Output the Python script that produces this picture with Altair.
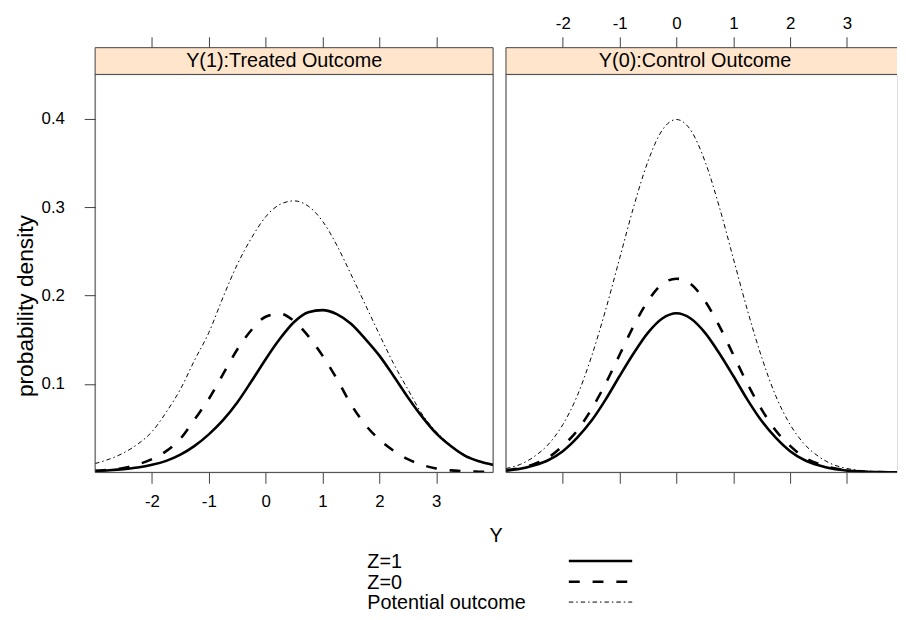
import altair as alt
import pandas as pd

FONT = "Liberation Sans"
AX = "#404040"

# ---------------- data ----------------
x_left = [-3.0, -2.75, -2.5, -2.25, -2.0, -1.75, -1.5, -1.25, -1.0, -0.75, -0.5, -0.25,
          0.0, 0.25, 0.5, 0.75, 1.0, 1.25, 1.5, 1.75, 2.0, 2.25, 2.5, 2.75, 3.0, 3.25,
          3.5, 3.75, 4.0]
z1_left = [0.0017, 0.0025, 0.0037, 0.0055, 0.0085, 0.013, 0.020, 0.030, 0.043, 0.059, 0.079,
           0.103, 0.128, 0.151, 0.170, 0.181, 0.1835, 0.179, 0.168, 0.151, 0.132, 0.109,
           0.085, 0.063, 0.044, 0.030, 0.019, 0.0125, 0.0085]
z0_left = [0.0015, 0.003, 0.005, 0.009, 0.015, 0.024, 0.038, 0.060, 0.083, 0.111, 0.139,
           0.161, 0.176, 0.1795, 0.171, 0.154, 0.132, 0.106, 0.077, 0.054, 0.037, 0.0245,
           0.015, 0.0085, 0.0045, 0.0023, 0.0013, 0.0008, 0.0005]
po_left = [0.010, 0.015, 0.022, 0.032, 0.046, 0.068, 0.094, 0.127, 0.158, 0.198, 0.235,
           0.265, 0.289, 0.303, 0.307, 0.301, 0.284, 0.257, 0.224, 0.190, 0.156, 0.123,
           0.094, 0.066, 0.046, 0.031, 0.020, 0.013, 0.0082]

x_right = [-3.0, -2.75, -2.5, -2.25, -2.0, -1.75, -1.5, -1.25, -1.0, -0.75, -0.5, -0.25,
           0.0, 0.25, 0.5, 0.75, 1.0, 1.25, 1.5, 1.75, 2.0, 2.25, 2.5, 2.75, 3.0, 3.25,
           3.5, 3.75, 3.88]
z1_right = [0.002, 0.004, 0.008, 0.014, 0.024, 0.039, 0.058, 0.082, 0.109, 0.135, 0.158,
            0.174, 0.180, 0.174, 0.158, 0.135, 0.109, 0.082, 0.058, 0.039, 0.024, 0.014,
            0.008, 0.004, 0.002, 0.0009, 0.0004, 0.0002, 0.0001]
z0_right = [0.0024, 0.005, 0.0096, 0.017, 0.030, 0.047, 0.071, 0.100, 0.133, 0.166, 0.194,
            0.213, 0.219, 0.213, 0.194, 0.166, 0.133, 0.100, 0.071, 0.047, 0.030, 0.017,
            0.0096, 0.005, 0.0024, 0.0011, 0.0005, 0.0002, 0.0001]
po_right = [0.0044, 0.009, 0.018, 0.032, 0.054, 0.086, 0.130, 0.183, 0.242, 0.301, 0.352,
            0.387, 0.399, 0.387, 0.352, 0.301, 0.242, 0.183, 0.130, 0.086, 0.054, 0.032,
            0.018, 0.009, 0.0044, 0.002, 0.0009, 0.0004, 0.0002]

x_ticks = [-2, -1, 0, 1, 2, 3]
y_ticks = [0.1, 0.2, 0.3, 0.4]
strip_labels = ["Y(1):Treated Outcome", "Y(0):Control Outcome"]
legend_labels = ["Z=1", "Z=0", "Potential outcome"]
x_title = "Y"
y_title = "probability density"

# ---------------- layout ----------------
W_L, W_R, H, STRIP = 402, 395, 402, 27
X_DOM_L = [-3, 4]
X_DOM_R = [-3, 3.88]
Y_DOM = [0, 0.45]
# plot origin of the left panel on the page is (95, 71); page margin is 8
ORIGIN_X, ORIGIN_Y = 95 - 8, 71 - 8

STYLES = [
    dict(strokeWidth=2.6),
    dict(strokeWidth=2.6, strokeDash=[11, 13]),
    dict(strokeWidth=1, strokeDash=[4.5, 3, 1.5, 3]),
]

one = alt.Data(values=[{"k": 0}])


def hrule(x1, x2, y):
    return alt.Chart(one).mark_rule(color=AX, strokeWidth=1).encode(
        x=alt.value(x1), x2=alt.value(x2), y=alt.value(y))


def vrule(x, y1, y2):
    return alt.Chart(one).mark_rule(color=AX, strokeWidth=1).encode(
        x=alt.value(x), y=alt.value(y1), y2=alt.value(y2))


def xaxis(orient, labels, offset=0):
    kw = dict(orient=orient, values=x_ticks, tickSize=11, labels=labels, domain=False,
              grid=False, title=None, tickColor=AX, labelColor="black", labelFont=FONT,
              labelFontSize=17, labelExpr="'' + datum.value", labelFlush=False)
    if orient == "top":
        kw.update(offset=offset, labelPadding=4)
    else:
        kw.update(labelPadding=10)
    return alt.Axis(**kw)


def yaxis():
    return alt.Axis(orient="left", values=y_ticks, tickSize=11, labelPadding=20,
                    format=".1f", domain=False, grid=False, title=None,
                    tickColor=AX, labelColor="black", labelFont=FONT, labelFontSize=17)


def panel(xs, series, xdom, width, strip, bottom_labels, top_labels, left_axis, right_border):
    layers = []
    if left_axis:
        # white anchor in the top-left corner of the page, fixes the layout origin
        layers.append(alt.Chart(one).mark_rect(fill="white").encode(
            x=alt.value(-ORIGIN_X), x2=alt.value(-ORIGIN_X + 3),
            y=alt.value(-ORIGIN_Y), y2=alt.value(-ORIGIN_Y + 3)))
    layers.append(alt.Chart(one).mark_rect(fill="#FFE5CC").encode(
        x=alt.value(0), x2=alt.value(width), y=alt.value(-STRIP), y2=alt.value(0)))
    layers.append(alt.Chart(one).mark_text(
        text=strip, font=FONT, fontSize=20, color="black", align="center", baseline="middle"
    ).encode(x=alt.value(191), y=alt.value(-STRIP / 2)))
    for i, ys in enumerate(series):
        df = pd.DataFrame({"x": xs, "y": ys})
        if i == 0:
            ax = xaxis("bottom", bottom_labels)
        elif i == 2:
            ax = xaxis("top", top_labels, offset=STRIP)
        else:
            ax = None
        yax = yaxis() if left_axis else None
        layers.append(alt.Chart(df).mark_line(
            color="black", interpolate="monotone", strokeCap="butt", clip=True, **STYLES[i]
        ).encode(
            x=alt.X("x:Q", scale=alt.Scale(domain=xdom, nice=False, zero=False), axis=ax),
            y=alt.Y("y:Q", scale=alt.Scale(domain=Y_DOM, nice=False, zero=False), axis=yax),
        ))
    layers += [hrule(0, width, -STRIP), hrule(0, width, 0), hrule(0, width, H),
               vrule(0, -STRIP, H)]
    if right_border:
        layers.append(vrule(width, -STRIP, H))
    return layers


left_layers = panel(x_left, [z1_left, z0_left, po_left], X_DOM_L, W_L, strip_labels[0],
                    True, False, True, True)

# axis titles and key (drawn relative to the left panel)
left_layers.append(alt.Chart(one).mark_text(
    text=y_title, font=FONT, fontSize=23, color="black", angle=270, align="center",
    baseline="middle").encode(x=alt.value(-70), y=alt.value(234)))
left_layers.append(alt.Chart(one).mark_text(
    text=x_title, font=FONT, fontSize=20, color="black", align="center",
    baseline="middle").encode(x=alt.value(405), y=alt.value(466)))
key_rows = [493, 514, 534.5]
for lab, yy, st in zip(legend_labels, key_rows, STYLES):
    left_layers.append(alt.Chart(one).mark_text(
        text=lab, font=FONT, fontSize=20, color="black", align="left",
        baseline="middle").encode(x=alt.value(275), y=alt.value(yy)))
    left_layers.append(alt.Chart(one).mark_rule(color="black", strokeCap="butt", **st).encode(
        x=alt.value(478.5), x2=alt.value(542.5), y=alt.value(yy - 1.5)))

right_layers = panel(x_right, [z1_right, z0_right, po_right], X_DOM_R, W_R, strip_labels[1],
                     False, True, False, False)

left = alt.layer(*left_layers).properties(width=W_L, height=H)
right = alt.layer(*right_layers).properties(width=W_R, height=H)

chart = alt.hconcat(left, right, spacing=13, bounds="flush").properties(
    padding={"left": 0, "top": 0, "right": 0, "bottom": 0}
).configure_view(stroke=None).configure(background="white")

chart.save("out.html", embed_options={"renderer": "svg", "actions": False})
